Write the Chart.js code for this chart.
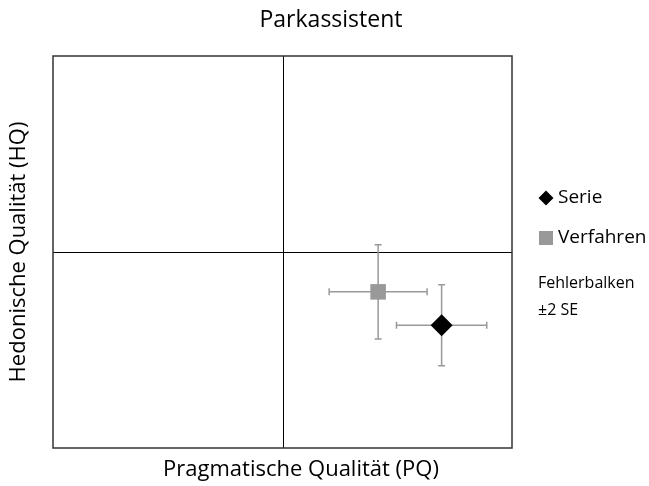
<!DOCTYPE html>
<html>
<head>
<meta charset="utf-8">
<script src="https://cdn.jsdelivr.net/npm/chart.js@4.4.1/dist/chart.umd.min.js"></script>
<style>
  html, body { margin: 0; padding: 0; background: #fff; }
  #wrap { width: 649px; height: 486px; }
</style>
</head>
<body>
<div id="wrap"><canvas id="myChart" width="649" height="486"></canvas></div>
<script>
// Werte (Skala 1..7, Mitte 4)
const seriesNames = ['Serie', 'Verfahren'];
const pqValues = [6.08, 5.25];
const hqValues = [2.88, 3.39];
const pqErr = [0.59, 0.64];   // ±2 SE
const hqErr = [0.62, 0.72];
const markerStyles = ['rectRot', 'rect'];
const markerColors = ['#000000', '#999999'];
const axisMin = 1, axisMax = 7, axisMid = 4;

const FONT = "'Open Sans', sans-serif";

// Fehlerbalken, Rahmen und Mittellinien
const extrasPlugin = {
    id: 'extras',
    beforeDatasetsDraw(chart) {
        const ctx = chart.ctx;
        const xs = chart.scales.x, ys = chart.scales.y;
        const a = chart.chartArea;
        ctx.save();
        // Kreuz in der Mitte
        ctx.strokeStyle = '#000';
        ctx.lineWidth = 1;
        const cx = Math.round(xs.getPixelForValue(axisMid)) + 0.5;
        const cy = Math.round(ys.getPixelForValue(axisMid)) + 0.5;
        ctx.beginPath();
        ctx.moveTo(cx, a.top); ctx.lineTo(cx, a.bottom);
        ctx.moveTo(a.left, cy); ctx.lineTo(a.right, cy);
        ctx.stroke();
        // Rahmen
        ctx.strokeStyle = '#333333';
        ctx.lineWidth = 1.5;
        ctx.strokeRect(a.left, a.top, a.right - a.left, a.bottom - a.top);
        // Fehlerbalken
        ctx.strokeStyle = '#999999';
        ctx.lineWidth = 1.5;
        const cap = 3.5;
        for (let i = 0; i < pqValues.length; i++) {
            const px = xs.getPixelForValue(pqValues[i]);
            const py = ys.getPixelForValue(hqValues[i]);
            const x1 = xs.getPixelForValue(pqValues[i] - pqErr[i]);
            const x2 = xs.getPixelForValue(pqValues[i] + pqErr[i]);
            const y1 = ys.getPixelForValue(hqValues[i] + hqErr[i]);
            const y2 = ys.getPixelForValue(hqValues[i] - hqErr[i]);
            ctx.beginPath();
            ctx.moveTo(x1, py); ctx.lineTo(x2, py);
            ctx.moveTo(x1, py - cap); ctx.lineTo(x1, py + cap);
            ctx.moveTo(x2, py - cap); ctx.lineTo(x2, py + cap);
            ctx.moveTo(px, y1); ctx.lineTo(px, y2);
            ctx.moveTo(px - cap, y1); ctx.lineTo(px + cap, y1);
            ctx.moveTo(px - cap, y2); ctx.lineTo(px + cap, y2);
            ctx.stroke();
        }
        ctx.restore();
    },
    afterDraw(chart) {
        const ctx = chart.ctx;
        const a = chart.chartArea;
        ctx.save();
        ctx.fillStyle = '#000';
        ctx.textBaseline = 'middle';
        // Titel
        ctx.textAlign = 'center';
        ctx.font = '23px ' + FONT;
        ctx.fillText('Parkassistent', 331, 20);
        ctx.font = '22px ' + FONT;
        ctx.fillText('Pragmatische Qualität (PQ)', 301, 470);
        ctx.save();
        ctx.translate(19, (a.top + a.bottom) / 2);
        ctx.rotate(-Math.PI / 2);
        ctx.fillText('Hedonische Qualität (HQ)', 0, 0);
        ctx.restore();
        // Legende
        ctx.textAlign = 'left';
        const legY = [198, 238];
        for (let i = 0; i < seriesNames.length; i++) {
            ctx.fillStyle = markerColors[i];
            ctx.beginPath();
            if (markerStyles[i] === 'rectRot') {
                ctx.moveTo(546, legY[i] - 7.5); ctx.lineTo(553.5, legY[i]);
                ctx.lineTo(546, legY[i] + 7.5); ctx.lineTo(538.5, legY[i]);
                ctx.closePath();
            } else {
                ctx.rect(539, legY[i] - 7, 14, 14);
            }
            ctx.fill();
            ctx.fillStyle = '#000';
            ctx.font = '19px ' + FONT;
            ctx.fillText(seriesNames[i], 558, legY[i]);
        }
        ctx.font = '16px ' + FONT;
        ctx.fillText('Fehlerbalken', 538, 283);
        ctx.fillText('±2 SE', 538, 310);
        ctx.restore();
    }
};

const data = {
    datasets: seriesNames.map((name, i) => ({
        label: name,
        data: [{ x: pqValues[i], y: hqValues[i] }],
        pointStyle: markerStyles[i],
        pointRadius: 11,
        pointHoverRadius: 11,
        backgroundColor: markerColors[i],
        borderColor: markerColors[i],
        borderWidth: 0
    })).reverse()
};

const config = {
    type: 'scatter',
    data: data,
    options: {
        responsive: false,
        animation: false,
        layout: {
            padding: { left: 53, right: 137, top: 56, bottom: 38 }
        },
        scales: {
            x: {
                min: axisMin, max: axisMax,
                ticks: { display: false },
                grid: { display: false, drawTicks: false },
                border: { display: false }
            },
            y: {
                min: axisMin, max: axisMax,
                ticks: { display: false },
                grid: { display: false, drawTicks: false },
                border: { display: false }
            }
        },
        plugins: {
            legend: { display: false },
            tooltip: { enabled: false }
        }
    },
    plugins: [extrasPlugin]
};

const myChart = new Chart(document.getElementById('myChart').getContext('2d'), config);
</script>
</body>
</html>
